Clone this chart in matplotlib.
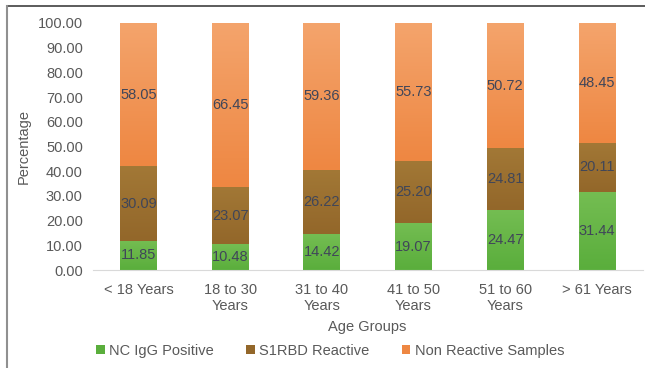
import numpy as np
import matplotlib as mpl
mpl.use('Agg')
import matplotlib.pyplot as plt
from matplotlib.colors import LinearSegmentedColormap

plt.rcParams['font.family'] = ['Liberation Sans', 'DejaVu Sans']

groups = ["< 18 Years", "18 to 30\nYears", "31 to 40\nYears", "41 to 50\nYears", "51 to 60\nYears", "> 61 Years"]
nc_igg = [11.85, 10.48, 14.42, 19.07, 24.47, 31.44]
s1rbd = [30.09, 23.07, 26.22, 25.20, 24.81, 20.11]
non_reactive = [58.05, 66.45, 59.36, 55.73, 50.72, 48.45]

series = [
    ("NC IgG Positive", nc_igg, "#5aae3c", "#74bd52"),
    ("S1RBD Reactive", s1rbd, "#93672a", "#a27836"),
    ("Non Reactive Samples", non_reactive, "#ee8742", "#f4a46c"),
]

fig = plt.figure(figsize=(6.45, 3.68), dpi=100)
ax = fig.add_axes([0.1435, 0.266, 0.853, 0.672])

x = np.arange(len(groups))
bottom = np.zeros(len(groups))
for name, vals, c_lo, c_hi in series:
    bars = ax.bar(x, vals, 0.4, bottom=bottom, color=c_lo, label=name, zorder=2)
    cmap = LinearSegmentedColormap.from_list(name, [c_lo, c_hi])
    grad = np.linspace(0, 1, 64).reshape(-1, 1)
    for b in bars:
        x0, y0 = b.get_x(), b.get_y()
        im = ax.imshow(grad, cmap=cmap, aspect='auto', origin='lower',
                       extent=[x0, x0 + b.get_width(), y0, y0 + b.get_height()], zorder=2)
        im.set_clip_path(b)
    for xi, b0, v in zip(x, bottom, vals):
        ax.text(xi, b0 + v / 2, f"{v:.2f}", ha='center', va='center',
                fontsize=10.5, color='#404659', zorder=3)
    bottom += np.array(vals)

ax.set_xlim(-0.5, len(groups) - 0.5)
ax.set_ylim(0, 100)
ax.set_yticks(np.arange(0, 101, 10))
ax.set_yticklabels([f"{v:.2f}" for v in np.arange(0, 101, 10)])
ax.set_xticks(x)
ax.set_xticklabels(groups, linespacing=1.2)
ax.tick_params(length=0, labelsize=10.5, colors='#595959')
ax.tick_params(axis='x', pad=9)
ax.tick_params(axis='y', pad=7)
for s in ['top', 'right', 'left']:
    ax.spines[s].set_visible(False)
ax.spines['bottom'].set_color('#d9d9d9')

ax.set_ylabel("Percentage", fontsize=10.5, color='#595959', labelpad=5)
ax.set_xlabel("Age Groups", fontsize=10.5, color='#595959', labelpad=5)

handles, labels = ax.get_legend_handles_labels()
fig.legend(handles, labels, loc='center', bbox_to_anchor=(0.512, 0.047), ncol=3,
           frameon=False, fontsize=10.5, handlelength=0.6, handleheight=0.6,
           handletextpad=0.3, columnspacing=2.2, labelcolor='#595959')

# frame lines along the top and left edges
fig.add_artist(plt.Line2D([0.011, 1.0], [0.984, 0.984], color='#404040', lw=1.2))
fig.add_artist(plt.Line2D([0.011, 0.011], [0.0, 0.984], color='#909090', lw=1.5))

fig.savefig("out.png", dpi=100)
